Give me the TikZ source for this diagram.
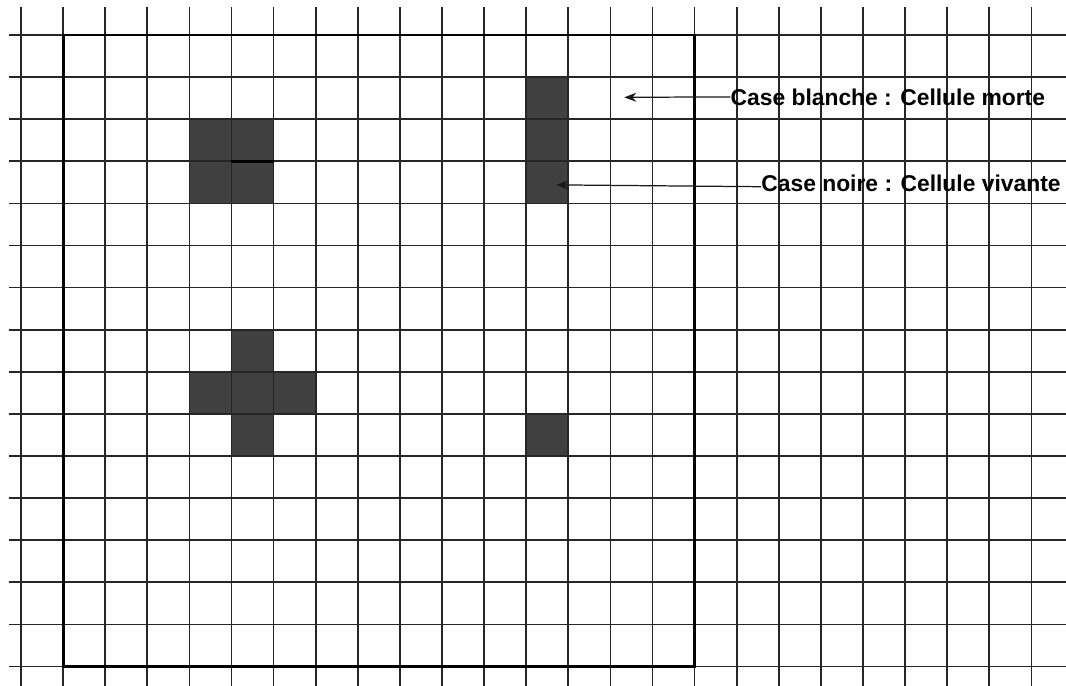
\documentclass[tikz,border=0pt]{standalone}
\usepackage{fontspec}
\setmainfont{Liberation Sans}
\usetikzlibrary{arrows.meta}
\tikzset{
  gridline/.style ={line width=1pt, black!85},
  cadre/.style    ={line width=1.7pt, black},
  vivante/.style  ={fill=black!75},
  legende/.style  ={font=\fontsize{13}{15}\selectfont\bfseries, inner sep=0pt},
  fleche/.style   ={-{Stealth[length=2.4mm, width=1.8mm]}, line width=0.7pt, black!90},
}

\begin{document}
\begin{tikzpicture}[x=0.842cm, y=-0.842cm]
  \useasboundingbox (-0.4988,-0.8314) rectangle (24.822,15.463);
  % cellules vivantes
  \foreach \c/\r in {4/2,5/2,4/3,5/3, 12/1,12/2,12/3, 5/7,4/8,5/8,6/8,5/9, 12/9}
    \fill[vivante] (\c,\r) rectangle ++(1,1);
  % grille
  \foreach \i in {0,...,24}
    \draw[gridline] (\i,-0.665) -- (\i,15.463);
  \foreach \j in {0,...,15}
    \draw[gridline] (-0.285,\j) -- (24.822,\j);
  % cadre
  \draw[cadre] (1,0) rectangle (16,15);
  \draw[cadre] (5,3) -- (6,3);

  % legende
  \node[legende] (lblmorte)   at (20.59,1.47) {Case blanche : Cellule morte};
  \node[legende] (lblvivante) at (21.14,3.52) {Case noire : Cellule vivante};
  \coordinate (blanche) at (14.33,1.48);
  \coordinate (noire)   at (12.71,3.56);
  \draw[fleche] (lblmorte.west) -- (blanche);
  \draw[fleche] ([yshift=-2pt]lblvivante.west) -- (noire);
\end{tikzpicture}
\end{document}
